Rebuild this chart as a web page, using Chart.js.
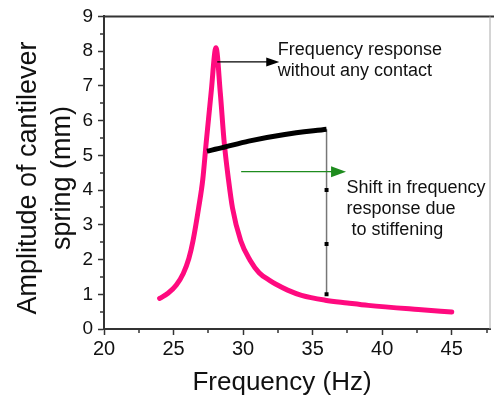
<!DOCTYPE html>
<html><head><meta charset="utf-8">
<script src="https://cdn.jsdelivr.net/npm/chart.js@4.4.1/dist/chart.umd.min.js"></script>
<style>html,body{margin:0;padding:0;background:#fff}#wrap{width:494px;height:403px}</style>
</head><body><div id="wrap"><canvas id="c" width="494" height="403"></canvas></div>
<script>
// Pink curve: frequency response due to stiffening
const pinkFreq = [24.0, 24.6, 25.2, 25.7, 26.1, 26.4, 26.8, 27.1, 27.35, 27.7, 28.05, 28.36, 28.64, 28.95, 29.24, 29.83, 30.5, 31.15, 31.9, 32.4, 33.2, 34.2, 35.9, 37.5, 39.0, 42.6, 45.0];
const pinkAmp  = [0.88, 1.03, 1.27, 1.6, 2.03, 2.54, 3.48, 4.3, 5.38, 6.8, 8.1, 6.8, 5.38, 4.3, 3.48, 2.54, 1.98, 1.62, 1.40, 1.28, 1.12, 0.97, 0.83, 0.75, 0.68, 0.56, 0.49];
// Black curve: frequency response without any contact
const contactFreq = [27.4, 28.5, 30.4, 33.0, 36.0];
const contactAmp  = [5.12, 5.22, 5.41, 5.6, 5.75];
// Vertical drop line at 36 Hz
const dropFreq = [36, 36, 36, 36];
const dropAmp  = [5.75, 4.0, 2.45, 1.0];
// Arrows
const contactArrowFreq = [28.14, 32.6];
const contactArrowAmp  = [7.69, 7.69];
const shiftArrowFreq = [29.86, 37.4];
const shiftArrowAmp  = [4.53, 4.53];
// Axis ticks
const xTicks = [20, 25, 30, 35, 40, 45];
const yTicks = [0, 1, 2, 3, 4, 5, 6, 7, 8, 9];
const xMinorTicks = [22.5, 27.5, 32.5, 37.5, 42.5, 47.5];
const yMinorTicks = [0.5, 1.5, 2.5, 3.5, 4.5, 5.5, 6.5, 7.5, 8.5];
const labelContact = ['Frequency response', 'without any contact'];
const labelShift = ['Shift in frequency', 'response due', ' to stiffening'];
const xTitle = 'Frequency (Hz)';
const yTitle = ['Amplitude of cantilever', 'spring (mm)'];

const FONT = '"Liberation Sans", Arial, sans-serif';
const toPts = (xs, ys) => xs.map((x, i) => ({x: x, y: ys[i]}));

function drawArrow(ctx, xs, ys, x, y, color, headLen, headW) {
  const x0 = xs.getPixelForValue(x[0]), y0 = ys.getPixelForValue(y[0]);
  const x1 = xs.getPixelForValue(x[1]), y1 = ys.getPixelForValue(y[1]);
  ctx.save();
  ctx.strokeStyle = color; ctx.fillStyle = color; ctx.lineWidth = 1.3;
  ctx.beginPath(); ctx.moveTo(x0, y0); ctx.lineTo(x1 - headLen + 1, y1); ctx.stroke();
  ctx.beginPath(); ctx.moveTo(x1, y1); ctx.lineTo(x1 - headLen, y1 - headW / 2); ctx.lineTo(x1 - headLen, y1 + headW / 2); ctx.closePath(); ctx.fill();
  ctx.restore();
}

const decor = {
  id: 'decor',
  beforeDatasetsDraw(chart) {
    const ctx = chart.ctx, a = chart.chartArea;
    const xs = chart.scales.x, ys = chart.scales.y;
    ctx.save();
    ctx.strokeStyle = '#333'; ctx.lineWidth = 2;
    ctx.beginPath(); ctx.moveTo(a.left, a.top); ctx.lineTo(chart.width, a.top); ctx.stroke();
    ctx.strokeStyle = '#aaa'; ctx.lineWidth = 1;
    ctx.beginPath(); ctx.moveTo(a.right, a.top); ctx.lineTo(a.right, a.bottom); ctx.stroke();
    ctx.strokeStyle = '#333'; ctx.lineWidth = 1.5;
    xMinorTicks.forEach(v => { const px = Math.round(xs.getPixelForValue(v)); ctx.beginPath(); ctx.moveTo(px, a.bottom); ctx.lineTo(px, a.bottom + 4); ctx.stroke(); });
    yMinorTicks.forEach(v => { const py = Math.round(ys.getPixelForValue(v)); ctx.beginPath(); ctx.moveTo(a.left, py); ctx.lineTo(a.left - 4, py); ctx.stroke(); });
    ctx.restore();
  },
  afterDatasetsDraw(chart) {
    const ctx = chart.ctx;
    const xs = chart.scales.x, ys = chart.scales.y;
    drawArrow(ctx, xs, ys, contactArrowFreq, contactArrowAmp, '#000', 13, 9);
    drawArrow(ctx, xs, ys, shiftArrowFreq, shiftArrowAmp, '#1e8c1e', 15, 11);
    ctx.save();
    ctx.fillStyle = '#111'; ctx.textBaseline = 'middle'; ctx.textAlign = 'left';
    ctx.font = '18px ' + FONT;
    const tx1 = xs.getPixelForValue(32.5);
    ctx.fillText(labelContact[0], tx1, ys.getPixelForValue(8.03));
    ctx.fillText(labelContact[1], tx1, ys.getPixelForValue(7.44));
    const tx2 = xs.getPixelForValue(37.43);
    ctx.fillText(labelShift[0], tx2, ys.getPixelForValue(4.05));
    ctx.fillText(labelShift[1], tx2, ys.getPixelForValue(3.45));
    ctx.fillText(labelShift[2], tx2, ys.getPixelForValue(2.84));
    // x axis title
    ctx.font = '26px ' + FONT; ctx.textAlign = 'center'; ctx.fillStyle = '#111';
    ctx.fillText(xTitle, 282, 383);
    // y axis title (two lines, rotated)
    ctx.translate(0, 178);
    ctx.rotate(-Math.PI / 2);
    ctx.font = '27px ' + FONT;
    ctx.fillText(yTitle[0], 0, 28.5);
    ctx.fillText(yTitle[1], 0, 63);
    ctx.restore();
  }
};

new Chart(document.getElementById('c'), {
  type: 'scatter',
  data: {
    datasets: [
      { data: toPts(contactFreq, contactAmp), showLine: true, borderColor: '#000', borderWidth: 5, pointRadius: 0, tension: 0.3, borderCapStyle: 'butt' },
      { data: toPts(dropFreq, dropAmp), showLine: true, borderColor: '#777', borderWidth: 1.5, tension: 0, pointStyle: 'rect', pointRadius: ctx => ctx.dataIndex === 0 ? 0 : 2.8, pointBackgroundColor: '#000', pointBorderWidth: 0 },
      { data: toPts(pinkFreq, pinkAmp), showLine: true, borderColor: '#ff0a7f', borderWidth: 5, pointRadius: 0, cubicInterpolationMode: 'monotone', borderCapStyle: 'round', borderJoinStyle: 'round' }
    ]
  },
  options: {
    responsive: false, animation: false, devicePixelRatio: 1,
    layout: { padding: { top: 13, right: 1.5, left: 0, bottom: 0 } },
    plugins: { legend: { display: false }, tooltip: { enabled: false } },
    scales: {
      x: {
        type: 'linear', min: 20, max: 47.75,
        afterBuildTicks: s => { s.ticks = xTicks.map(v => ({value: v})); },
        afterFit: s => { s.height = 74; },
        ticks: { color: '#111', font: { size: 20, family: FONT }, padding: 2, maxRotation: 0, includeBounds: false },
        grid: { drawOnChartArea: false, drawTicks: true, tickLength: 6, tickColor: '#333', tickWidth: 1.5 },
        border: { color: '#333', width: 2 }
      },
      y: {
        type: 'linear', min: 0, max: 9,
        afterBuildTicks: s => { s.ticks = yTicks.map(v => ({value: v})); },
        afterFit: s => { s.width = 104; },
        ticks: { color: '#111', font: { size: 19, family: FONT }, padding: 5 },
        grid: { drawOnChartArea: false, drawTicks: true, tickLength: 6, tickColor: '#333', tickWidth: 1.5 },
        border: { color: '#333', width: 2 },
        title: { display: false }
      }
    }
  },
  plugins: [decor]
});
</script></body></html>
